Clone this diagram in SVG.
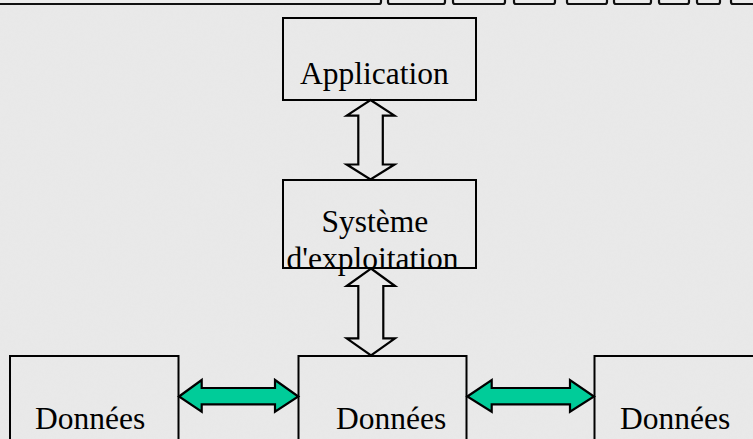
<svg xmlns="http://www.w3.org/2000/svg" width="753" height="439" viewBox="0 0 753 439">
  <defs>
    <filter id="grain" x="0" y="0" width="100%" height="100%">
      <feTurbulence type="fractalNoise" baseFrequency="0.35" numOctaves="2" seed="7" result="n"/>
      <feColorMatrix in="n" type="matrix" values="0 0 0 0 0.80  0 0 0 0 0.80  0 0 0 0 0.80  0 0 0 1.2 -0.3"/>
    </filter>
    <style>
      .box { fill: none; stroke: #000; stroke-width: 2; }
      .tab { fill: #ececec; stroke: #111; stroke-width: 2.2; }
      .label { font-family: "Liberation Serif", "Times New Roman", serif; font-size: 31.5px; fill: #000; }
      .updown { fill: none; stroke: #000; stroke-width: 2.2; stroke-linejoin: miter; }
      .link { fill: #00cc99; stroke: #000; stroke-width: 2.2; stroke-linejoin: miter; }
    </style>
  </defs>

  <!-- textured grey backdrop -->
  <rect x="0" y="0" width="753" height="439" fill="#e9e9e9"/>
  <rect x="0" y="0" width="753" height="439" filter="url(#grain)" opacity="0.55"/>

  <!-- strip of tabs along the top edge -->
  <g id="tabs">
    <rect class="tab" x="-4" y="-10" width="385" height="14" rx="2"/>
    <rect class="tab" x="388" y="-10" width="57" height="14" rx="2"/>
    <rect class="tab" x="453" y="-10" width="52" height="14" rx="2"/>
    <rect class="tab" x="514" y="-10" width="41" height="14" rx="2"/>
    <rect class="tab" x="567" y="-10" width="40" height="14" rx="2"/>
    <rect class="tab" x="614" y="-10" width="37" height="14" rx="2"/>
    <rect class="tab" x="659" y="-10" width="30" height="14" rx="2"/>
    <rect class="tab" x="697" y="-10" width="23" height="14" rx="2"/>
    <rect class="tab" x="731" y="-10" width="30" height="14" rx="2"/>
  </g>

  <g id="application">
    <rect class="box" x="283" y="18" width="193" height="82"/>
    <text class="label" x="300" y="84">Application</text>
  </g>

  <g id="systeme">
    <rect class="box" x="283" y="180" width="193" height="88"/>
    <text class="label" x="321.5" y="231.5">Système</text>
    <text class="label" x="286.5" y="269">d'exploitation</text>
  </g>

  <g id="donnees-gauche">
    <rect class="box" x="10" y="356" width="168.5" height="100"/>
    <text class="label" x="35" y="428.5">Données</text>
  </g>

  <g id="donnees-centre">
    <rect class="box" x="298.5" y="356" width="168" height="100"/>
    <text class="label" x="336" y="428.5">Données</text>
  </g>

  <g id="donnees-droite">
    <rect class="box" x="594.5" y="356" width="170" height="100"/>
    <text class="label" x="620" y="428.5">Données</text>
  </g>

  <g id="connectors">
    <!-- hollow double arrows between the stacked layers -->
    <path class="updown" d="M370.5,100 L394.5,115.7 L382.8,115.7 L382.8,164.5 L394.5,164.5 L370.5,179.5 L346.7,164.5 L358.3,164.5 L358.3,115.7 L346.7,115.7 Z"/>
    <path class="updown" d="M371,268.5 L395,286 L383.3,286 L383.3,338.3 L395,338.3 L371,355.5 L346.7,338.3 L358.3,338.3 L358.3,286 L346.7,286 Z"/>
    <!-- filled double arrows between the data stores -->
    <path class="link" d="M179,396.5 L201.7,380 L201.7,388 L275,388 L275,380 L298.3,396.5 L275,411.7 L275,404.3 L201.7,404.3 L201.7,411.7 Z"/>
    <path class="link" d="M467.3,396.5 L491.7,380 L491.7,388 L570,388 L570,380 L594,396.5 L570,411.7 L570,404.3 L491.7,404.3 L491.7,411.7 Z"/>
  </g>
</svg>
